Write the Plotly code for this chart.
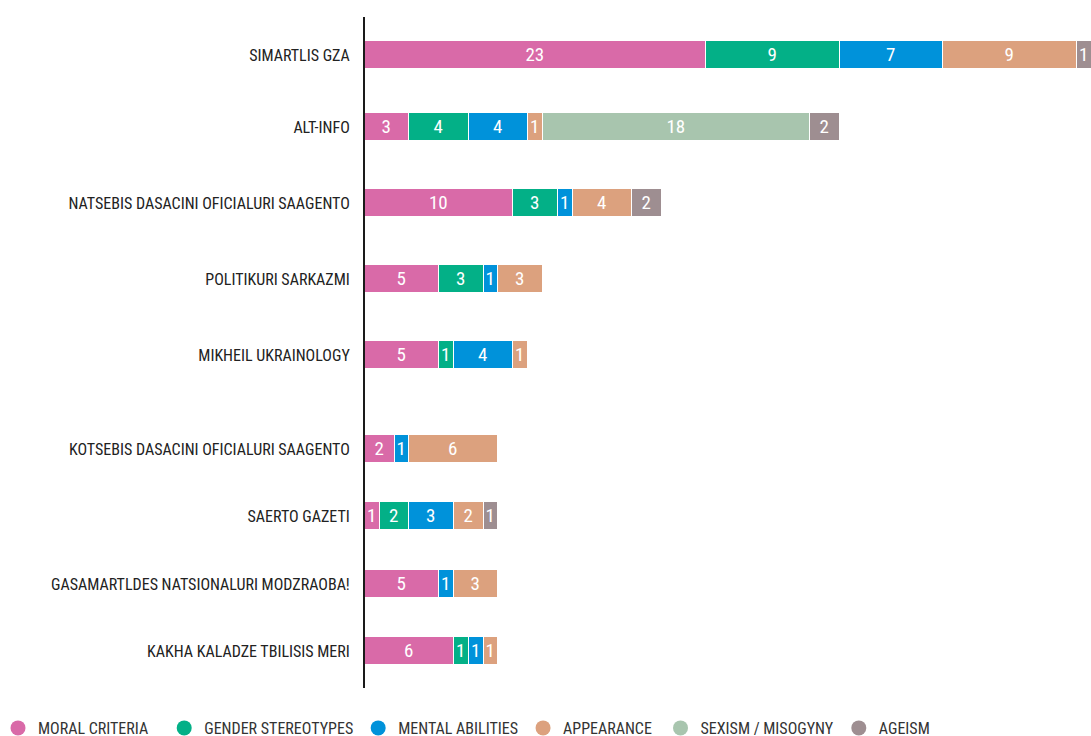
import plotly.graph_objects as go

categories = [
    "SIMARTLIS GZA",
    "ALT-INFO",
    "NATSEBIS DASACINI OFICIALURI SAAGENTO",
    "POLITIKURI SARKAZMI",
    "MIKHEIL UKRAINOLOGY",
    "KOTSEBIS DASACINI OFICIALURI SAAGENTO",
    "SAERTO GAZETI",
    "GASAMARTLDES NATSIONALURI MODZRAOBA!",
    "KAKHA KALADZE TBILISIS MERI",
]

moral_criteria = [23, 3, 10, 5, 5, 2, 1, 5, 6]
gender_stereotypes = [9, 4, 3, 3, 1, None, 2, None, 1]
mental_abilities = [7, 4, 1, 1, 4, 1, 3, 1, 1]
appearance = [9, 1, 4, 3, 1, 6, 2, 3, 1]
sexism_misogyny = [None, 18, None, None, None, None, None, None, None]
ageism = [1, 2, 2, None, None, None, 1, None, None]

series_names = ["MORAL CRITERIA", "GENDER STEREOTYPES", "MENTAL ABILITIES",
                "APPEARANCE", "SEXISM / MISOGYNY", "AGEISM"]
series_values = [moral_criteria, gender_stereotypes, mental_abilities,
                 appearance, sexism_misogyny, ageism]
colors = ["#d96aa8", "#03b087", "#0092da", "#dca17e", "#a8c5ae", "#9e8e91"]

# legend spacing padding (non-breaking spaces appended to legend entries)
legend_pad = [3, 0, 0, 1, 0, 0]

# layout: row centre positions (pixel-like units on a reversed axis)
row_pos = [55, 127, 203, 279, 355, 449, 516, 584, 651]

LABEL_FONT = "Roboto Condensed, Roboto, sans-serif"
NUM_SIZE = 19

fig = go.Figure()
for name, vals, col, pad in zip(series_names, series_values, colors, legend_pad):
    fig.add_trace(go.Bar(
        y=row_pos, x=vals, orientation="h", name=name,
        marker=dict(color=col, line=dict(color="white", width=1.5)),
        width=28,
        text=[("" if v is None else str(v)) for v in vals],
        textposition="inside", insidetextanchor="middle", textangle=0,
        insidetextfont=dict(color="white", size=NUM_SIZE, family=LABEL_FONT),
        showlegend=False, hoverinfo="x+name",
    ))
    fig.add_trace(go.Scatter(
        x=[None], y=[None], mode="markers", name=name + "\u00a0" * pad,
        marker=dict(color=col, size=15, symbol="circle"),
        showlegend=True,
    ))

fig.update_layout(
    barmode="stack",
    width=1091, height=736,
    margin=dict(l=365, r=0, t=17, b=48, autoexpand=False),
    plot_bgcolor="white", paper_bgcolor="white",
    font=dict(family=LABEL_FONT, size=16, color="#222222"),
    uniformtext=dict(minsize=NUM_SIZE, mode="show"),
    xaxis=dict(range=[0, 48.95], showgrid=False, zeroline=False,
               showticklabels=False, ticks="", fixedrange=True,
               automargin=False),
    yaxis=dict(range=[688, 17], showgrid=False, zeroline=False,
               tickvals=row_pos, ticktext=categories, ticks="",
               showline=True, linecolor="#1a1a1a", linewidth=2,
               ticklabelstandoff=10, automargin=False,
               tickfont=dict(family=LABEL_FONT, size=16, color="#222222")),
    legend=dict(orientation="h", x=-367 / 726, xanchor="left",
                y=-(728 - 688) / 671, yanchor="middle",
                font=dict(family=LABEL_FONT, size=16, color="#333333"),
                traceorder="normal"),
    bargap=0,
)

fig.write_html("out.html", config={"displayModeBar": False},
               post_script="document.body.style.margin='0';")
